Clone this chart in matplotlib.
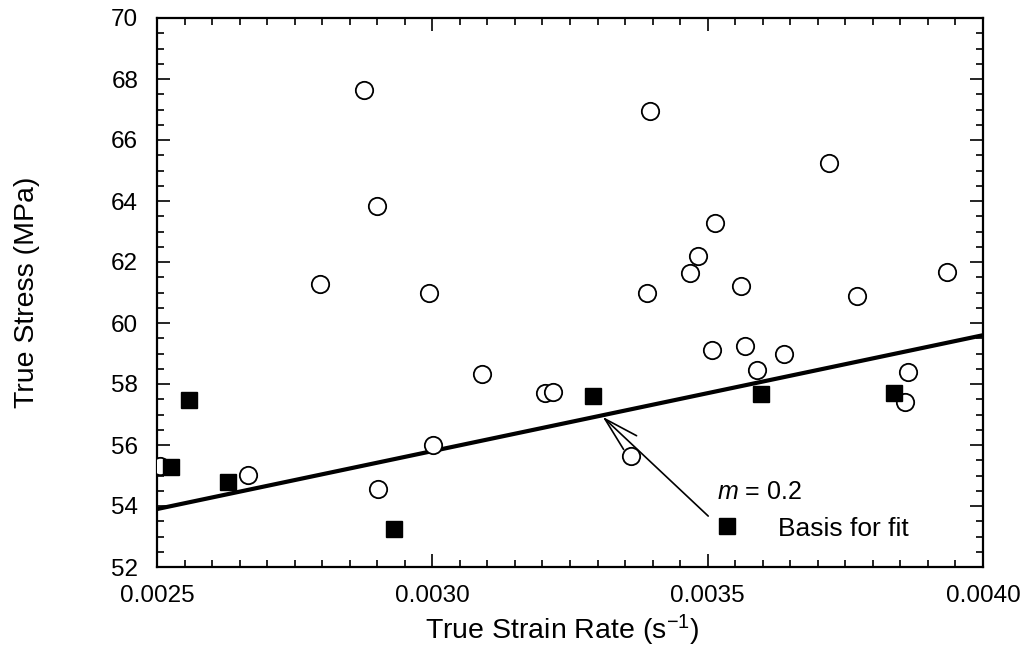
import matplotlib
matplotlib.use("Agg")
import matplotlib.pyplot as plt
from matplotlib.ticker import MultipleLocator, FormatStrFormatter
from matplotlib.lines import Line2D

plt.rcParams['font.family'] = ['Liberation Sans', 'DejaVu Sans']
plt.rcParams['mathtext.fontset'] = 'custom'
plt.rcParams['mathtext.rm'] = 'Liberation Sans'
plt.rcParams['mathtext.it'] = 'Liberation Sans:italic'
plt.rcParams['mathtext.default'] = 'regular'

# ---- data ----
open_x = [0.002876, 0.002900, 0.002796, 0.002994, 0.003395, 0.003721, 0.003513,
          0.003482, 0.003468, 0.003390, 0.003560, 0.003771, 0.003935, 0.002665,
          0.002902, 0.003001, 0.003090, 0.003205, 0.003220, 0.003361, 0.003507,
          0.003567, 0.003639, 0.003589, 0.003864, 0.003858, 0.002505]
open_y = [67.64, 63.84, 61.29, 60.99, 66.95, 65.25, 63.28,
          62.20, 61.65, 61.00, 61.20, 60.88, 61.68, 55.01,
          54.55, 56.00, 58.32, 57.70, 57.75, 55.65, 59.11,
          59.24, 59.00, 58.45, 58.40, 57.40, 55.30]

fit_pts_x = [0.002526, 0.002559, 0.002629, 0.002930, 0.003291, 0.003597, 0.003839]
fit_pts_y = [55.29, 57.48, 54.79, 53.24, 57.60, 57.66, 57.72]

fit_line_x = [0.0025, 0.0040]
fit_line_y = [53.9, 59.6]

arrow_tip = (0.003309, 56.93)
arrow_tail = (0.003501, 53.67)
m_label_pos = (0.003517, 54.46)

x_ticks = [0.0025, 0.0030, 0.0035, 0.0040]
y_ticks = [52, 54, 56, 58, 60, 62, 64, 66, 68, 70]

# ---- figure ----
fig = plt.figure(figsize=(10.29, 6.63), dpi=100)
ax = fig.add_axes([157/1029, 1-567/663, (983-157)/1029, (567-18)/663])

ax.plot(fit_line_x, fit_line_y, color='black', lw=3.0, solid_capstyle='butt', zorder=2)
ax.plot(open_x, open_y, linestyle='none', marker='o', markersize=12.5,
        markerfacecolor='white', markeredgecolor='black', markeredgewidth=1.3, zorder=3)
ax.plot(fit_pts_x, fit_pts_y, linestyle='none', marker='s', markersize=11,
        markerfacecolor='black', markeredgecolor='black', zorder=4)

ax.annotate('', xy=arrow_tip, xytext=arrow_tail,
            arrowprops=dict(arrowstyle='->,head_length=2.5,head_width=0.68',
                            mutation_scale=10, lw=1.2, color='black',
                            shrinkA=0, shrinkB=0))
ax.text(m_label_pos[0], m_label_pos[1], r'$\mathit{m}$ = 0.2', fontsize=18,
        ha='left', va='center')

handle = Line2D([], [], linestyle='none', marker='s', markersize=11,
                markerfacecolor='black', markeredgecolor='black')
ax.legend([handle], ['Basis for fit'], loc='center left',
          bbox_to_anchor=(0.674, 0.070), frameon=False, fontsize=19,
          handlelength=1.0, handletextpad=1.45, borderpad=0, borderaxespad=0)

ax.set_xlim(x_ticks[0], x_ticks[-1])
ax.set_ylim(y_ticks[0], y_ticks[-1])
ax.set_xticks(x_ticks)
ax.set_yticks(y_ticks)
ax.xaxis.set_major_formatter(FormatStrFormatter('%.4f'))
ax.yaxis.set_major_formatter(FormatStrFormatter('%d'))
ax.xaxis.set_minor_locator(MultipleLocator(0.00005))
ax.yaxis.set_minor_locator(MultipleLocator(0.5))

ax.tick_params(which='both', direction='in', top=True, right=True, width=1.2, colors='black')
ax.tick_params(which='major', length=9.5, labelsize=17.5)
ax.tick_params(axis='x', which='major', pad=13)
ax.tick_params(axis='y', which='major', pad=13.5)
ax.tick_params(which='minor', length=5)
for s in ax.spines.values():
    s.set_linewidth(1.6)

ax.set_xlabel('True Strain Rate (s$^{-1}$)', fontsize=20.5)
ax.set_ylabel('True Stress (MPa)', fontsize=20.5)
ax.xaxis.set_label_coords(0.49, -0.083)
ax.yaxis.set_label_coords(-0.1416, 0.5)

fig.savefig('out.png', dpi=100)
